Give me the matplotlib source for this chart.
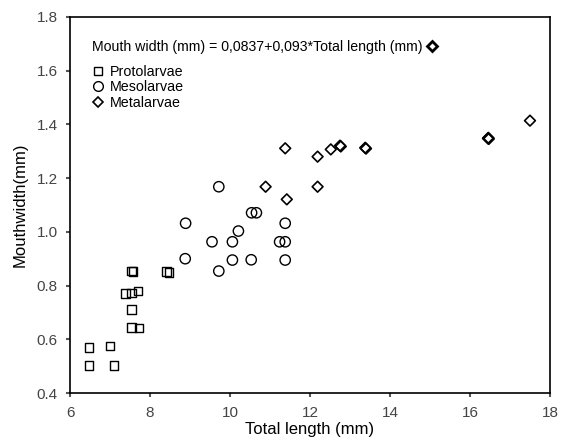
import matplotlib.pyplot as plt
from matplotlib.lines import Line2D

plt.rcParams['font.family'] = ['Liberation Sans', 'DejaVu Sans']

# Protolarvae
proto_x = [6.47, 6.47, 7.0, 7.1, 7.54, 7.57, 7.39, 7.54, 7.70, 7.54, 7.54, 7.72, 8.41, 8.48]
proto_y = [0.570, 0.502, 0.575, 0.503, 0.854, 0.853, 0.771, 0.773, 0.780, 0.710, 0.643, 0.642, 0.853, 0.848]

# Mesolarvae
meso_x = [8.89, 8.88, 9.72, 9.72, 9.55, 10.06, 10.06, 10.21, 10.54, 10.66, 10.53, 11.38, 11.24, 11.38, 11.38]
meso_y = [1.032, 0.900, 1.168, 0.854, 0.963, 0.963, 0.895, 1.003, 1.071, 1.071, 0.896, 1.032, 0.963, 0.963, 0.895]

# Metalarvae
meta_x = [10.89, 11.42, 12.19, 11.38, 12.19, 12.52, 12.75, 12.77, 13.38, 13.40, 16.45, 16.47, 16.46, 17.50]
meta_y = [1.168, 1.121, 1.168, 1.311, 1.280, 1.307, 1.321, 1.318, 1.313, 1.310, 1.348, 1.346, 1.350, 1.414]

equation = "Mouth width (mm) = 0,0837+0,093*Total length (mm)"

fig = plt.figure(figsize=(5.62, 4.47), dpi=100)
ax = fig.add_axes([0.1246, 0.1208, 0.854, 0.8412])

ax.scatter(proto_x, proto_y, marker='s', s=38, facecolors='none', edgecolors='black', linewidths=1.0)
ax.scatter(meso_x, meso_y, marker='o', s=55, facecolors='none', edgecolors='black', linewidths=1.0)
ax.scatter(meta_x, meta_y, marker='D', s=30, facecolors='none', edgecolors='black', linewidths=1.2)

ax.set_xlim(6, 18)
ax.set_ylim(0.4, 1.8)
ax.set_xticks([6, 8, 10, 12, 14, 16, 18])
ax.set_yticks([0.4, 0.6, 0.8, 1.0, 1.2, 1.4, 1.6, 1.8])
ax.set_yticklabels(['0.4', '0.6', '0.8', '1.0', '1.2', '1.4', '1.6', '1.8'])
ax.tick_params(length=3, width=1.5, color='#555555', labelsize=11, labelcolor='#444444', pad=6)
for sp in ax.spines.values():
    sp.set_linewidth(1.2)

ax.set_xlabel('Total length (mm)', fontsize=12, labelpad=2)
ax.set_ylabel('Mouthwidth(mm)', fontsize=12, labelpad=6)

eq_handle = Line2D([], [], linestyle='none', marker='D', markersize=5, markerfacecolor='none',
                   markeredgecolor='black', markeredgewidth=2)
leg1 = ax.legend([eq_handle], [equation], loc='upper left', bbox_to_anchor=(0.034, 0.955),
                 frameon=False, markerfirst=False, fontsize=10.2, handlelength=0.8, handletextpad=0.3,
                 borderaxespad=0)
ax.add_artist(leg1)

handles = [
    Line2D([], [], linestyle='none', marker='s', markersize=6, markerfacecolor='none', markeredgecolor='black'),
    Line2D([], [], linestyle='none', marker='o', markersize=7, markerfacecolor='none', markeredgecolor='black'),
    Line2D([], [], linestyle='none', marker='D', markersize=5.5, markerfacecolor='none', markeredgecolor='black', markeredgewidth=1.2),
]
ax.legend(handles, ['Protolarvae', 'Mesolarvae', 'Metalarvae'], loc='upper left',
          bbox_to_anchor=(0.035, 0.888), frameon=False, fontsize=10.3, handlelength=0.8,
          handletextpad=0.4, labelspacing=0.1, borderaxespad=0)

fig.savefig('out.png', dpi=100)
